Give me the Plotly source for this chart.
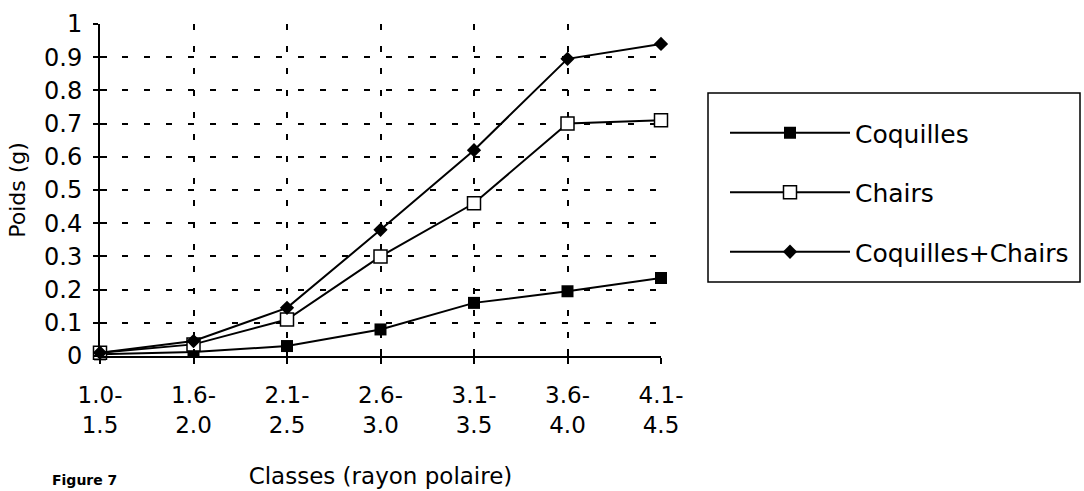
import plotly.graph_objects as go

categories = ["1.0-<br>1.5", "1.6-<br>2.0", "2.1-<br>2.5", "2.6-<br>3.0", "3.1-<br>3.5", "3.6-<br>4.0", "4.1-<br>4.5"]
coquilles = [0.005, 0.012, 0.03, 0.08, 0.16, 0.195, 0.235]
chairs = [0.01, 0.035, 0.11, 0.30, 0.46, 0.70, 0.71]
total = [0.01, 0.045, 0.145, 0.38, 0.62, 0.895, 0.94]
y_ticks = [0, 0.1, 0.2, 0.3, 0.4, 0.5, 0.6, 0.7, 0.8, 0.9, 1]
y_ticktext = ["0", "0.1", "0.2", "0.3", "0.4", "0.5", "0.6", "0.7", "0.8", "0.9", "1"]

FONT = "DejaVu Sans"
fig = go.Figure()
fig.add_trace(go.Scatter(x=categories, y=coquilles, name="Coquilles", mode="lines+markers",
                         legendgroup="a", cliponaxis=False,
                         line=dict(color="black", width=2),
                         marker=dict(symbol="square", size=12, color="black")))
fig.add_trace(go.Scatter(x=categories, y=chairs, name="Chairs", mode="lines+markers",
                         legendgroup="b", cliponaxis=False,
                         line=dict(color="black", width=2),
                         marker=dict(symbol="square", size=13, color="white",
                                     line=dict(color="black", width=1.5))))
fig.add_trace(go.Scatter(x=categories, y=total, name="Coquilles+Chairs", mode="lines+markers",
                         legendgroup="c", cliponaxis=False,
                         line=dict(color="black", width=2),
                         marker=dict(symbol="diamond", size=11, color="black")))

fig.update_layout(
    width=1084, height=491,
    margin=dict(l=100, r=423, t=24, b=135, autoexpand=False),
    paper_bgcolor="white", plot_bgcolor="white",
    font=dict(family=FONT, color="black", size=22),
    showlegend=True,
    legend=dict(xref="container", yref="container", x=725 / 1084, y=1 - 110 / 491,
                xanchor="left", yanchor="top",
                borderwidth=0, bgcolor="rgba(0,0,0,0)",
                font=dict(size=25, family=FONT), tracegroupgap=24,
                itemwidth=120),
    xaxis=dict(type="category", range=[0, 6], showline=True, linecolor="black", linewidth=2,
               automargin=False,
               ticks="outside", ticklen=6, tickwidth=1.5, tickcolor="black",
               showgrid=True, gridcolor="black", gridwidth=1.5, griddash="6px,16px",
               tickfont=dict(size=23), ticklabelstandoff=11,
               title=dict(text="Classes (rayon polaire)", font=dict(size=23), standoff=31)),
    yaxis=dict(range=[0, 1], tickvals=y_ticks, ticktext=y_ticktext, showline=True,
               linecolor="black", linewidth=2, zeroline=False, automargin=False,
               ticks="outside", ticklen=5, tickwidth=1.5, tickcolor="black",
               showgrid=True, gridcolor="black", gridwidth=1.5, griddash="6px,16px",
               tickfont=dict(size=24), ticklabelstandoff=6,
               title=dict(text="Poids (g)", font=dict(size=22), standoff=12)),
    xaxis2=dict(type="category", overlaying="x", anchor="y", side="bottom", matches="x",
                ticks="inside", ticklen=7, tickwidth=1.5, tickcolor="black",
                showticklabels=False, showgrid=False, showline=False, zeroline=False),
    yaxis2=dict(overlaying="y", anchor="x", side="left", range=[0, 1], tickvals=y_ticks,
                ticks="inside", ticklen=7, tickwidth=1.5, tickcolor="black",
                showticklabels=False, showgrid=False, showline=False, zeroline=False),
    shapes=[dict(type="rect", xref="paper", yref="paper",
                 x0=(708 - 100) / 561, x1=(1080 - 100) / 561,
                 y0=(356 - 282) / 332, y1=(356 - 93) / 332,
                 line=dict(color="black", width=1.5), fillcolor="rgba(0,0,0,0)")],
    annotations=[dict(text="<b>Figure 7</b>", xref="paper", yref="paper",
                      x=-0.089, y=-0.405, xanchor="left", yanchor="bottom",
                      showarrow=False, font=dict(size=14, family=FONT))],
)
fig.add_trace(go.Scatter(x=categories, y=coquilles, xaxis="x2", yaxis="y2", mode="lines",
                         line=dict(width=0), hoverinfo="skip", showlegend=False))

fig.write_html("out.html")
